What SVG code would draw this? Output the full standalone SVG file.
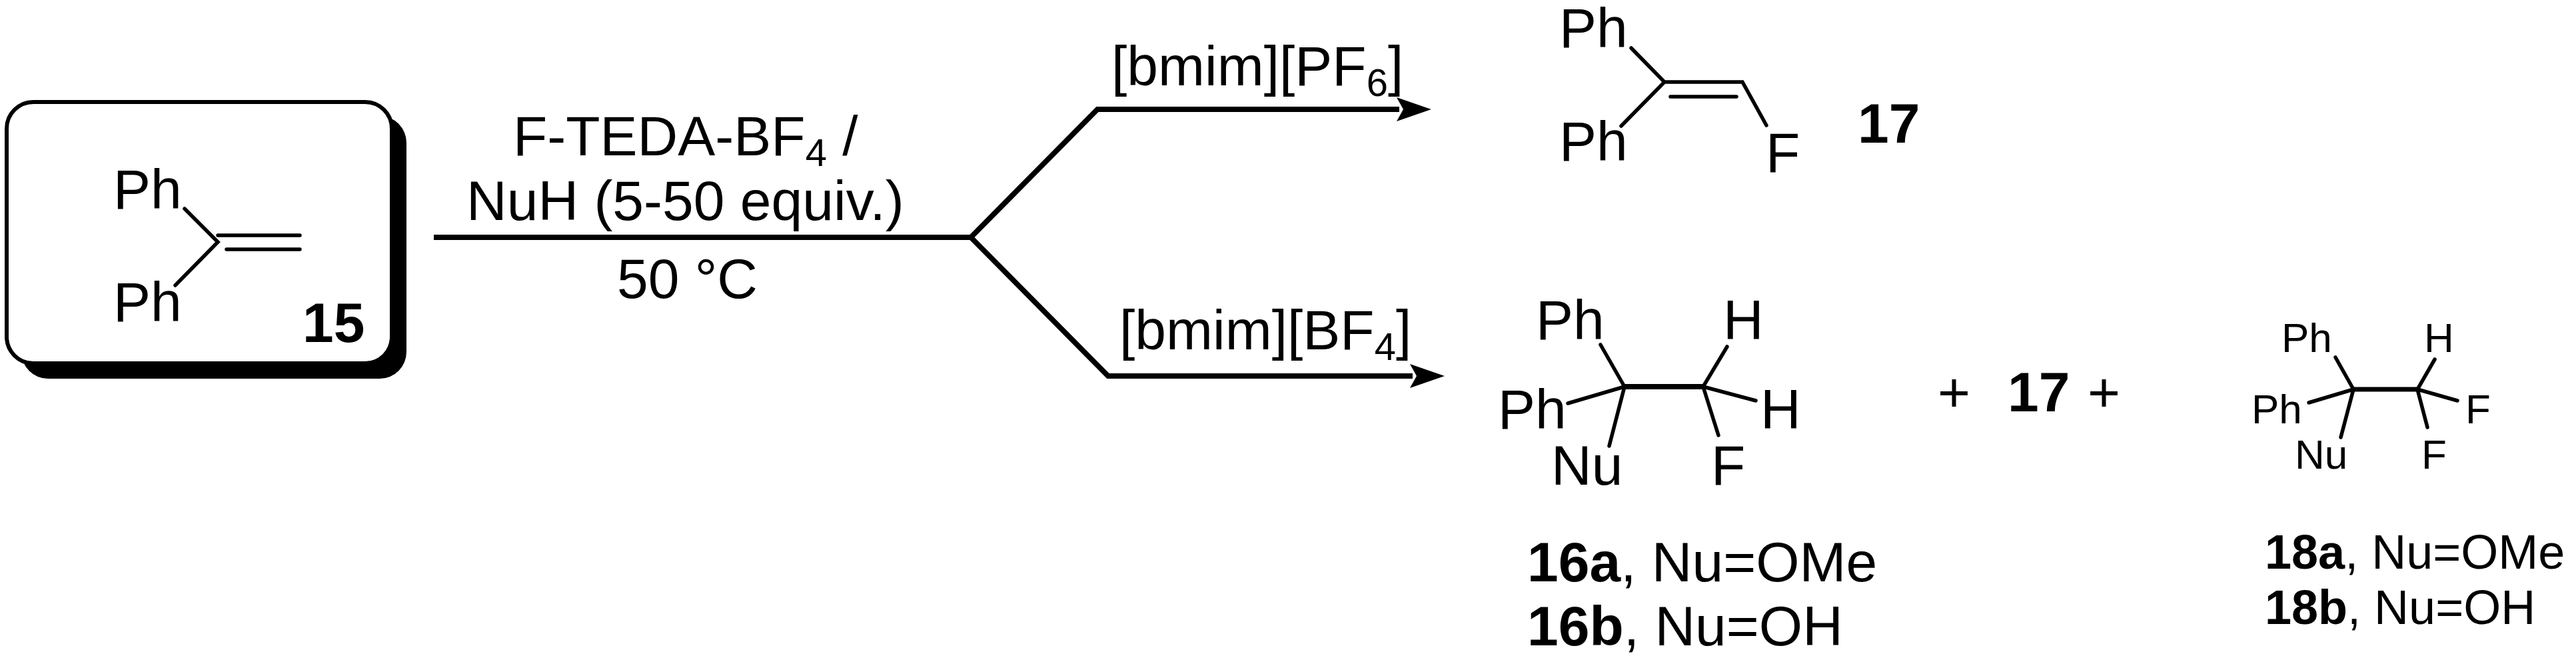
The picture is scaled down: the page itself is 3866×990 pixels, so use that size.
<svg xmlns="http://www.w3.org/2000/svg" width="3866" height="990" viewBox="0 0 3866 990">
<style>
text{font-family:"Liberation Sans",Arial,sans-serif;fill:#000}
.t{font-size:84px}
.s{font-size:62px}
.m{font-size:72px}
.b{font-weight:bold}
.bd{stroke:#000;stroke-width:5.5;fill:none;stroke-linecap:round}
.ar{stroke:#000;stroke-width:8;fill:none}
</style>
<g id="node15">
<rect x="32" y="174" width="578" height="394" rx="40" fill="#000"/>
<rect x="10" y="153" width="578" height="392" rx="40" fill="#fff" stroke="#000" stroke-width="6"/>
<text class="t" x="170" y="313">Ph</text>
<text class="t" x="170" y="482">Ph</text>
<path class="bd" d="M277,313 L327,363 L263,428 M327,353 L450,353 M340,374 L450,374"/>
<text class="t b" x="454" y="513">15</text>
</g>
<g id="conditions">
<text class="t" x="770" y="233">F-TEDA-BF<tspan font-size="58" dy="16">4</tspan><tspan dy="-16"> /</tspan></text>
<text class="t" x="700" y="330">NuH (5-50 equiv.)</text>
<text class="t" x="926" y="447">50 °C</text>
<text class="t" x="1668" y="128">[bmim][PF<tspan font-size="58" dy="16">6</tspan><tspan dy="-16">]</tspan></text>
<text class="t" x="1680" y="524">[bmim][BF<tspan font-size="58" dy="16">4</tspan><tspan dy="-16">]</tspan></text>
</g>
<g id="connectors">
<path class="ar" d="M651,356 L1457,356"/>
<path class="ar" d="M1457,356 L1647,164 L2100,164"/>
<path class="ar" d="M1457,356 L1663,564 L2120,564"/>
<path d="M2148,164 L2096,146 L2106,164 L2096,182 Z" fill="#000"/>
<path d="M2168,564 L2116,546 L2126,564 L2116,582 Z" fill="#000"/>
</g>
<g id="node17">
<text class="t" x="2340" y="71">Ph</text>
<text class="t" x="2340" y="241">Ph</text>
<text class="t" x="2650" y="258">F</text>
<path class="bd" d="M2448,72 L2498,123 L2433,189 M2498,123 L2615,123 L2651,188 M2507,145 L2606,145"/>
<text class="t b" x="2788" y="214">17</text>
</g>
<g id="node16">
<text class="t" x="2305" y="509">Ph</text>
<text class="t" x="2586" y="509">H</text>
<text class="t" x="2248" y="643">Ph</text>
<text class="t" x="2642" y="643">H</text>
<text class="t" x="2328" y="727">Nu</text>
<text class="t" x="2568" y="727">F</text>
<path class="bd" d="M2402,517 L2438,580 L2353,605 M2438,580 L2415,669 M2592,520 L2556,580 L2635,601 M2556,580 L2579,653"/>
<path d="M2438,580 L2556,580" stroke="#000" stroke-width="8"/>
<text class="t" x="2292" y="872"><tspan class="b">16a</tspan>, Nu=OMe</text>
<text class="t" x="2292" y="968"><tspan class="b">16b</tspan>, Nu=OH</text>
</g>
<g id="plus">
<text class="t" x="2908" y="617">+</text>
<text class="t b" x="3013" y="617">17</text>
<text class="t" x="3133" y="617">+</text>
</g>
<g id="node18">
<text class="s" x="3424" y="528">Ph</text>
<text class="s" x="3638" y="528">H</text>
<text class="s" x="3379" y="635">Ph</text>
<text class="s" x="3700" y="635">F</text>
<text class="s" x="3444" y="703">Nu</text>
<text class="s" x="3634" y="703">F</text>
<path class="bd" d="M3505,536 L3532,584 L3465,604 M3532,584 L3513,656 M3654,539 L3628,584 L3688,601 M3628,584 L3643,641" stroke-width="4.5"/>
<path d="M3532,584 L3628,584" stroke="#000" stroke-width="7"/>
<text class="m" x="3399" y="853"><tspan class="b">18a</tspan>, Nu=OMe</text>
<text class="m" x="3399" y="936"><tspan class="b">18b</tspan>, Nu=OH</text>
</g>
</svg>
